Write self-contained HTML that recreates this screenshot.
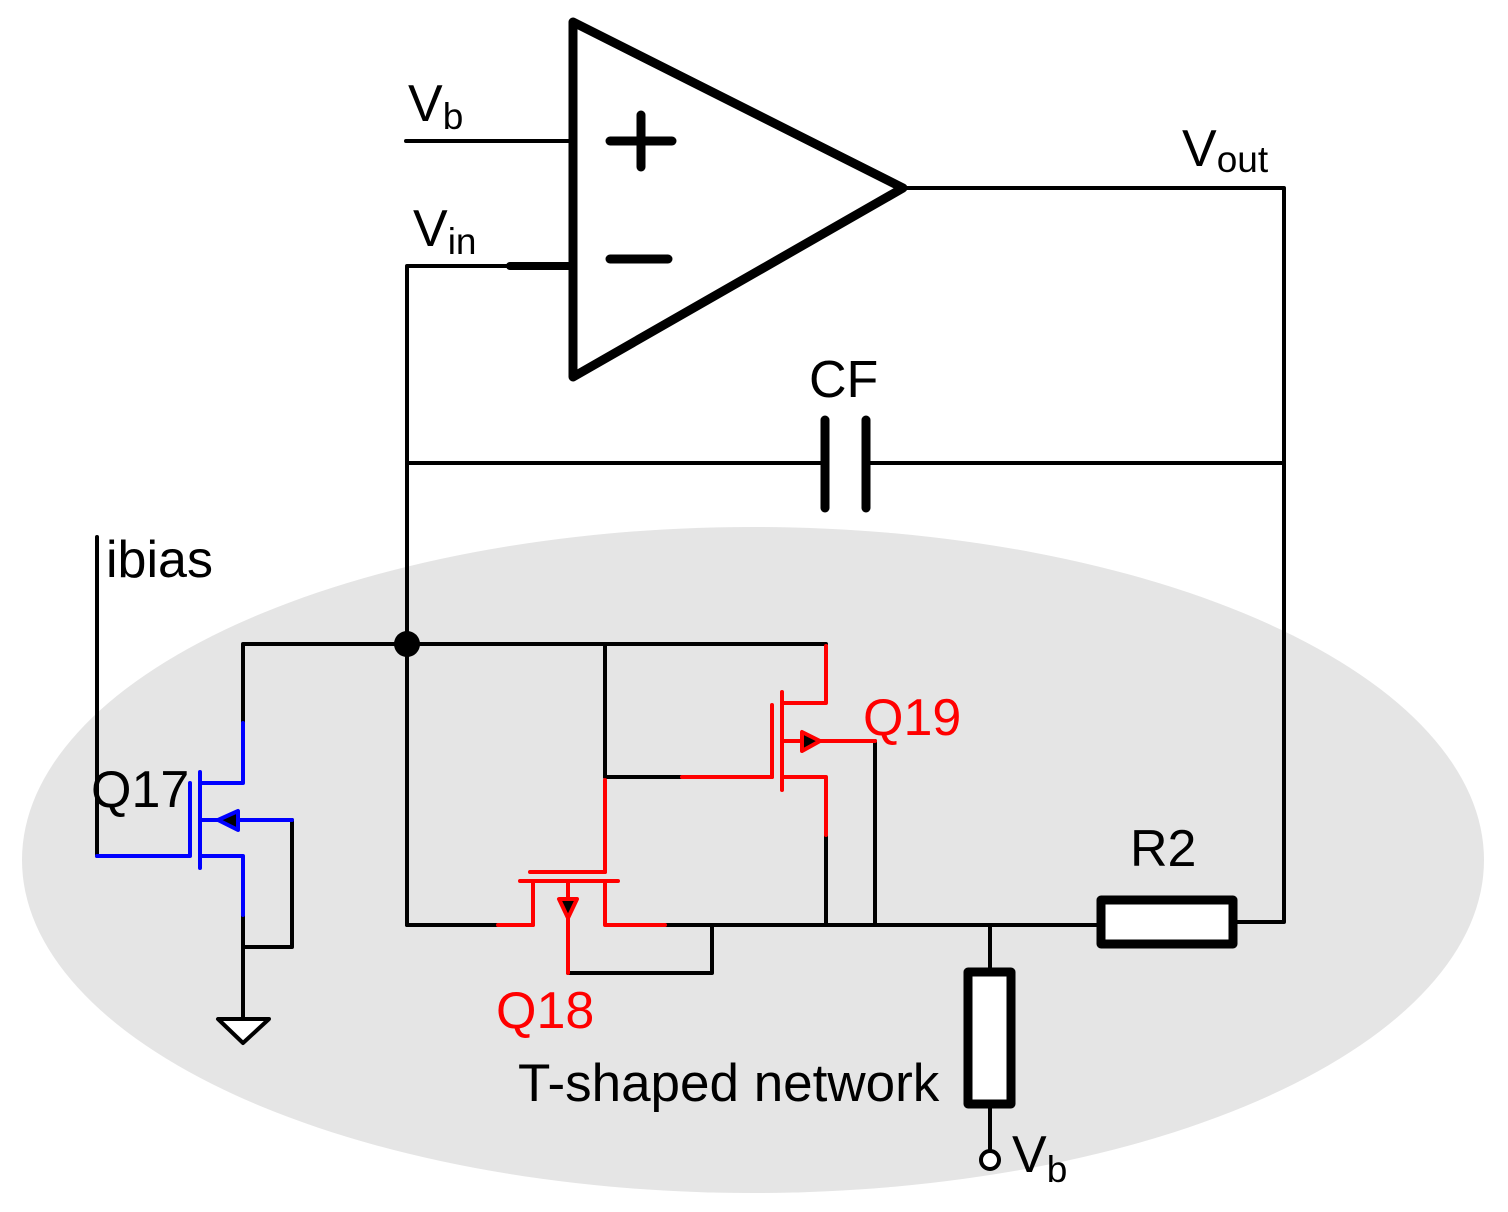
<!DOCTYPE html>
<html><head><meta charset="utf-8"><style>
html,body{margin:0;padding:0;background:#fff;}
svg{display:block;}
text{font-family:"Liberation Sans",Arial,sans-serif;}
</style></head><body>
<svg width="1508" height="1212" viewBox="0 0 1508 1212" xmlns="http://www.w3.org/2000/svg">
<ellipse cx="753" cy="860" rx="731" ry="333" fill="#e5e5e5"/>
<g fill="none" stroke-linecap="round" stroke-linejoin="round">
<polygon points="573,22 573,377 903,188" stroke="#000" stroke-width="9" fill="#fff"/>
<line x1="610" y1="141" x2="672" y2="141" stroke="#000" stroke-width="9"/>
<line x1="641" y1="115" x2="641" y2="167" stroke="#000" stroke-width="9"/>
<line x1="610" y1="259" x2="668" y2="259" stroke="#000" stroke-width="9"/>
<g stroke="#000" stroke-width="4">
<line x1="406" y1="141" x2="573" y2="141"/>
<polyline points="407,925 407,266 510,266"/>
<polyline points="903,188 1284,188 1284,922 1236,922"/>
<line x1="407" y1="463" x2="825" y2="463"/>
<line x1="866" y1="463" x2="1284" y2="463"/>
<line x1="97" y1="537" x2="97" y2="856"/>
<polyline points="243,723 243,644 826,644"/>
<line x1="605" y1="644" x2="605" y2="777"/>
<line x1="605" y1="777" x2="682" y2="777"/>
<line x1="407" y1="925" x2="498" y2="925"/>
<line x1="665" y1="925" x2="1100" y2="925"/>
<polyline points="712,925 712,973 568,973"/>
<line x1="826" y1="835" x2="826" y2="925"/>
<polyline points="875,741 875,925"/>
<polyline points="292,820 292,947 243,947"/>
<line x1="243" y1="915" x2="243" y2="1018"/>
<line x1="990" y1="925" x2="990" y2="970"/>
<line x1="990" y1="1106" x2="990" y2="1151"/>
</g>
<line x1="510" y1="266" x2="573" y2="266" stroke="#000" stroke-width="8"/>
<line x1="825" y1="420" x2="825" y2="508" stroke="#000" stroke-width="9"/>
<line x1="866" y1="420" x2="866" y2="508" stroke="#000" stroke-width="9"/>
<polygon points="218,1019 269,1019 243,1043" stroke="#000" stroke-width="4" fill="#fff"/>
<rect x="1101" y="900" width="132" height="44" stroke="#000" stroke-width="9" fill="#fff"/>
<rect x="968" y="972" width="43" height="132" stroke="#000" stroke-width="9" fill="#fff"/>
<circle cx="990" cy="1160" r="9" stroke="#000" stroke-width="4" fill="#fff"/>
<g stroke="#0000ff" stroke-width="4">
<polyline points="243,723 243,783 200,783"/>
<line x1="200" y1="772" x2="200" y2="868"/>
<line x1="190" y1="783" x2="190" y2="855"/>
<line x1="97" y1="856" x2="190" y2="856"/>
<polyline points="200,856 243,856 243,915"/>
<line x1="200" y1="820" x2="292" y2="820"/>
</g>
<polygon points="218,820 238,811 238,830" fill="#000" stroke="#0000ff" stroke-width="4"/>
<g stroke="#ff0000" stroke-width="4">
<line x1="498" y1="925" x2="533" y2="925"/>
<polyline points="533,925 533,881"/>
<line x1="520" y1="881" x2="618" y2="881"/>
<line x1="530" y1="872" x2="605" y2="872"/>
<line x1="605" y1="872" x2="605" y2="780"/>
<polyline points="605,881 605,925 665,925"/>
<line x1="568" y1="881" x2="568" y2="973"/>
<line x1="682" y1="777" x2="772" y2="777"/>
<line x1="772" y1="705" x2="772" y2="777"/>
<line x1="782" y1="692" x2="782" y2="790"/>
<polyline points="782,703 826,703 826,646"/>
<polyline points="782,777 826,777 826,835"/>
<line x1="782" y1="741" x2="875" y2="741"/>
</g>
<polygon points="559,899 577,899 568,918" fill="#000" stroke="#ff0000" stroke-width="4"/>
<polygon points="802,732 802,751 820,741" fill="#000" stroke="#ff0000" stroke-width="4"/>
</g>
<circle cx="407" cy="644" r="13" fill="#000"/>
<g font-size="52" fill="#000">
<text x="408" y="121">V<tspan font-size="37" dy="8">b</tspan></text>
<text x="413" y="246">V<tspan font-size="37" dy="8">in</tspan></text>
<text x="1182" y="166">V<tspan font-size="37" dy="6">out</tspan></text>
<text x="1012" y="1172">V<tspan font-size="37" dy="10">b</tspan></text>
<text x="809" y="397">CF</text>
<text x="106" y="577">ibias</text>
<text x="91" y="807">Q17</text>
<text x="1130" y="866">R2</text>
<text x="518" y="1101" font-size="53">T-shaped network</text>
<text x="863" y="735" fill="#ff0000">Q19</text>
<text x="496" y="1028" fill="#ff0000">Q18</text>
</g>
</svg>
</body></html>
